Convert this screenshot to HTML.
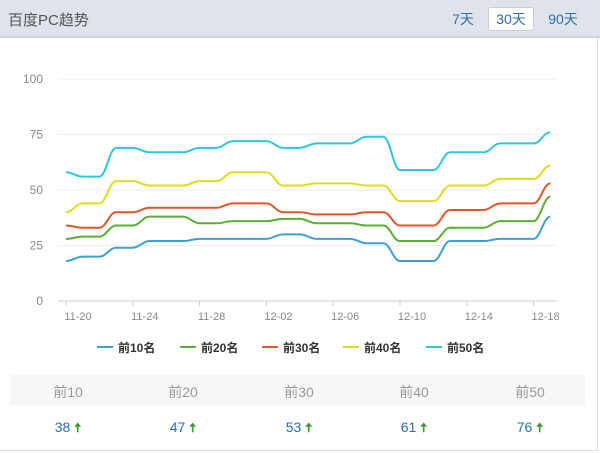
<!DOCTYPE html>
<html><head><meta charset="utf-8">
<style>
body{margin:0;width:600px;height:453px;background:#fff;font-family:"Liberation Sans","Noto Sans CJK SC",sans-serif;overflow:hidden;position:relative}
.hdr{position:absolute;left:0;top:0;width:600px;height:36px;background:#dfe3ec;border-bottom:2px solid #cfd4de}
.title{position:absolute;left:8px;top:9px;font-size:15px;color:#555}
.btn{position:absolute;top:7px;height:24px;line-height:24px;font-size:14px;color:#2e6ead;text-align:center}
.sel{background:#fff;border:1px solid #ccd;border-radius:3px;height:22px;line-height:22px}
.rb{position:absolute;left:597px;top:38px;width:1px;height:412px;background:#ddd}
.bb{position:absolute;left:0;top:450px;width:598px;height:1px;background:#ddd}
.band{position:absolute;left:10px;top:375px;width:575px;height:30px;background:#f7f7f7}
.th{position:absolute;top:382px;font-size:14px;color:#999;width:60px;text-align:center}
.tv{position:absolute;top:419px;font-size:14px;color:#2a6ebb;width:60px;text-align:center}
.tv span{color:#3a9a2a;font-size:13px;font-weight:bold}
</style></head><body>
<div class="hdr">
<div class="title">百度PC趋势</div>
<div class="btn" style="left:450px;width:26px">7天</div>
<div class="btn sel" style="left:488px;width:44px">30天</div>
<div class="btn" style="left:545px;width:36px">90天</div>
</div>
<svg id="chart" width="600" height="453" style="position:absolute;left:0;top:0"></svg>
<div class="band"></div>
<div class="th" style="left:38px">前10</div>
<div class="th" style="left:153px">前20</div>
<div class="th" style="left:269px">前30</div>
<div class="th" style="left:384px">前40</div>
<div class="th" style="left:500px">前50</div>
<div class="tv" style="left:38px">38 <span>🠅</span></div>
<div class="tv" style="left:153px">47 <span>🠅</span></div>
<div class="tv" style="left:269px">53 <span>🠅</span></div>
<div class="tv" style="left:384px">61 <span>🠅</span></div>
<div class="tv" style="left:500px">76 <span>🠅</span></div>
<div class="rb"></div><div class="bb"></div>
<script>
const yTicks=[0,25,50,75,100];
const xTickLabels=["11-20","11-24","11-28","12-02","12-06","12-10","12-14","12-18"];
const seriesNames=["前10名","前20名","前30名","前40名","前50名"];
const top10=[18,20,20,24,24,27,27,27,28,28,28,28,28,30,30,28,28,28,26,26,18,18,18,27,27,27,28,28,28,38];
const top20=[28,29,29,34,34,38,38,38,35,35,36,36,36,37,37,35,35,35,34,34,27,27,27,33,33,33,36,36,36,47];
const top30=[34,33,33,40,40,42,42,42,42,42,44,44,44,40,40,39,39,39,40,40,34,34,34,41,41,41,44,44,44,53];
const top40=[40,44,44,54,54,52,52,52,54,54,58,58,58,52,52,53,53,53,52,52,45,45,45,52,52,52,55,55,55,61];
const top50=[58,56,56,69,69,67,67,67,69,69,72,72,72,69,69,71,71,71,74,74,59,59,59,67,67,67,71,71,71,76];
const colors=["#3aa0d8","#5aaf32","#e0562a","#dede18","#2ec8dc"];
const svg=document.getElementById('chart');
const NS="http://www.w3.org/2000/svg";
const X=i=>66+i*16.7, Y=v=>301-v*2.22;
function mk(t,a){const e=document.createElementNS(NS,t);for(const k in a)e.setAttribute(k,a[k]);svg.appendChild(e);return e;}
yTicks.forEach(v=>{
 const g=mk('line',{x1:58,x2:556,y1:Y(v),y2:Y(v),stroke:v===0?'#ccc':'#eee','stroke-width':1});
 
 
 const t=mk('text',{x:43,y:Y(v)+4,'text-anchor':'end','font-size':12,fill:'#888'});
 t.textContent=v;
 
 
});
xTickLabels.forEach((l,k)=>{
 const x=X(k*4);
 const tk=mk('line',{x1:x,x2:x,y1:301,y2:306,stroke:'#ccc'});
 
 
 const t=mk('text',{x:x+12,y:320,'text-anchor':'middle','font-size':11,fill:'#888'});
 t.textContent=l;
 
 
});
[top10,top20,top30,top40,top50].forEach((s,si)=>{
 let d='M'+X(0)+' '+Y(s[0]);
 for(let i=1;i<s.length;i++){const x0=X(i-1),x1=X(i),dx=(x1-x0)/2.5;d+=` C${x0+dx} ${Y(s[i-1])} ${x1-dx} ${Y(s[i])} ${x1} ${Y(s[i])}`;}
 const p=mk('path',{d:d,fill:'none',stroke:colors[si],'stroke-width':2});
 
 
});
const lx=[97,180,262,343,426];
seriesNames.forEach((n,i)=>{
 const l=mk('line',{x1:lx[i],x2:lx[i]+16,y1:347,y2:347,stroke:colors[i],'stroke-width':2});
 
 
 const t=mk('text',{x:lx[i]+21,y:352,'font-size':12,'font-weight':'bold',fill:'#333'});
 t.textContent=n;
 
 
});
</script>
</body></html>
